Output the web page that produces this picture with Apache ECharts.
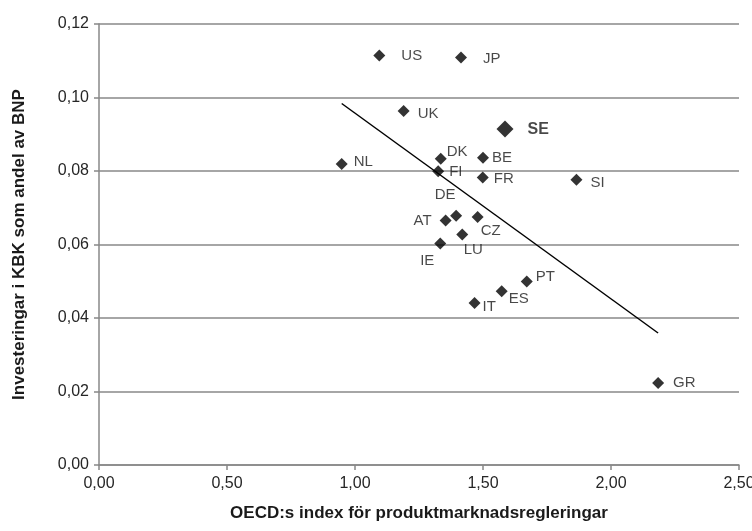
<!DOCTYPE html>
<html>
<head>
<meta charset="utf-8">
<script src="https://cdn.jsdelivr.net/npm/echarts@6/dist/echarts.min.js"></script>
<style>
  html, body { margin: 0; padding: 0; background: #fff; }
  #chart { width: 752px; height: 531px; }
</style>
</head>
<body>
<div id="chart"></div>
<script>
// Country codes with PMR index (x) and investment share of GDP (y)
const countries = ['US', 'JP', 'UK', 'SE', 'NL', 'DK', 'FI', 'BE', 'FR', 'SI', 'DE', 'AT', 'CZ', 'LU', 'IE', 'PT', 'ES', 'IT', 'GR'];
const pmrIndex = [1.095, 1.414, 1.190, 1.586, 0.948, 1.335, 1.325, 1.500, 1.499, 1.865, 1.395, 1.354, 1.479, 1.419, 1.333, 1.671, 1.573, 1.467, 2.184];
const investShare = [0.1114, 0.1109, 0.0963, 0.0914, 0.0819, 0.0833, 0.0799, 0.0836, 0.0782, 0.0776, 0.0678, 0.0665, 0.0675, 0.0627, 0.0603, 0.0499, 0.0473, 0.0441, 0.0223];
const highlighted = 'SE';
const xTicks = [0, 0.5, 1, 1.5, 2, 2.5];
const yTicks = [0, 0.02, 0.04, 0.06, 0.08, 0.10, 0.12];

// Label placement per country (style only)
const labelPlacement = {
  US: { position: 'right', distance: 16, offset: [0, 0] },
  JP: { position: 'right', distance: 16, offset: [0, 1] },
  UK: { position: 'right', distance: 8, offset: [0, 3] },
  SE: { position: 'right', distance: 14, offset: [0, 0] },
  NL: { position: 'right', distance: 6, offset: [0, -2] },
  DK: { position: 'right', distance: 0, offset: [0, -7] },
  FI: { position: 'right', distance: 5, offset: [0, 0] },
  BE: { position: 'right', distance: 3, offset: [0, 0] },
  FR: { position: 'right', distance: 5, offset: [0, 1] },
  SI: { position: 'right', distance: 8, offset: [0, 3] },
  DE: { position: 'top', distance: 7, offset: [-11, 0] },
  AT: { position: 'left', distance: 8, offset: [0, 0] },
  CZ: { position: 'bottom', distance: 0, offset: [13, 0] },
  LU: { position: 'bottom', distance: 2, offset: [11, 0] },
  IE: { position: 'bottom', distance: 4, offset: [-13, 0] },
  PT: { position: 'right', distance: 3, offset: [0, -5] },
  ES: { position: 'right', distance: 1, offset: [0, 8] },
  IT: { position: 'right', distance: 2, offset: [0, 4] },
  GR: { position: 'right', distance: 9, offset: [0, 0] }
};

// Least-squares trend line across the observed x range
const n = pmrIndex.length;
const mx = pmrIndex.reduce((a, b) => a + b, 0) / n;
const my = investShare.reduce((a, b) => a + b, 0) / n;
let sxy = 0, sxx = 0;
for (let i = 0; i < n; i++) {
  sxy += (pmrIndex[i] - mx) * (investShare[i] - my);
  sxx += (pmrIndex[i] - mx) * (pmrIndex[i] - mx);
}
const slope = sxy / sxx;
const intercept = my - slope * mx;
const xMin = Math.min(...pmrIndex);
const xMax = Math.max(...pmrIndex);
const trend = [[xMin, intercept + slope * xMin], [xMax, intercept + slope * xMax]];

const fontFamily = '"Liberation Sans", Arial, sans-serif';
const comma = v => v.toFixed(2).replace('.', ',');

const points = countries.map((c, i) => {
  const p = labelPlacement[c];
  const isHi = c === highlighted;
  return {
    name: c,
    value: [pmrIndex[i], investShare[i]],
    symbolSize: isHi ? 17 : 12,
    label: {
      show: true,
      formatter: c,
      position: p.position,
      distance: p.distance,
      offset: p.offset,
      fontWeight: isHi ? 'bold' : 'normal',
      fontSize: isHi ? 16 : 15
    }
  };
});

const chart = echarts.init(document.getElementById('chart'), null, { renderer: 'canvas' });
chart.setOption({
  animation: false,
  backgroundColor: '#fff',
  textStyle: { fontFamily: fontFamily },
  grid: { left: 99, right: 13, top: 24, bottom: 66, containLabel: false, outerBoundsMode: 'none' },
  xAxis: {
    type: 'value',
    min: xTicks[0],
    max: xTicks[xTicks.length - 1],
    interval: 0.5,
    name: 'OECD:s index för produktmarknadsregleringar',
    nameLocation: 'middle',
    nameGap: 40,
    nameTextStyle: { fontFamily: fontFamily, fontWeight: 'bold', fontSize: 17, color: '#1a1a1a' },
    axisLine: { show: true, lineStyle: { color: '#888', width: 1.5 } },
    axisTick: { show: true, length: 5, lineStyle: { color: '#888', width: 1.5 } },
    axisLabel: { formatter: comma, fontSize: 16, color: '#262626', margin: 11 },
    splitLine: { show: false }
  },
  yAxis: {
    type: 'value',
    min: yTicks[0],
    max: yTicks[yTicks.length - 1],
    interval: 0.02,
    name: 'Investeringar i KBK som andel av BNP',
    nameLocation: 'middle',
    nameGap: 71,
    nameTextStyle: { fontFamily: fontFamily, fontWeight: 'bold', fontSize: 17, color: '#1a1a1a' },
    axisLine: { show: true, lineStyle: { color: '#888', width: 1.5 } },
    axisTick: { show: true, length: 5, lineStyle: { color: '#888', width: 1.5 } },
    axisLabel: { formatter: comma, fontSize: 16, color: '#262626', margin: 10 },
    splitLine: { show: true, lineStyle: { color: '#888', width: 1.5 } }
  },
  series: [
    {
      type: 'line',
      data: trend,
      symbol: 'none',
      lineStyle: { color: '#000', width: 1.5 },
      silent: true,
      z: 1
    },
    {
      type: 'scatter',
      symbol: 'diamond',
      data: points,
      itemStyle: { color: '#000' },
      label: { color: '#1a1a1a', fontFamily: fontFamily },
      z: 3
    }
  ]
});
</script>
</body>
</html>
